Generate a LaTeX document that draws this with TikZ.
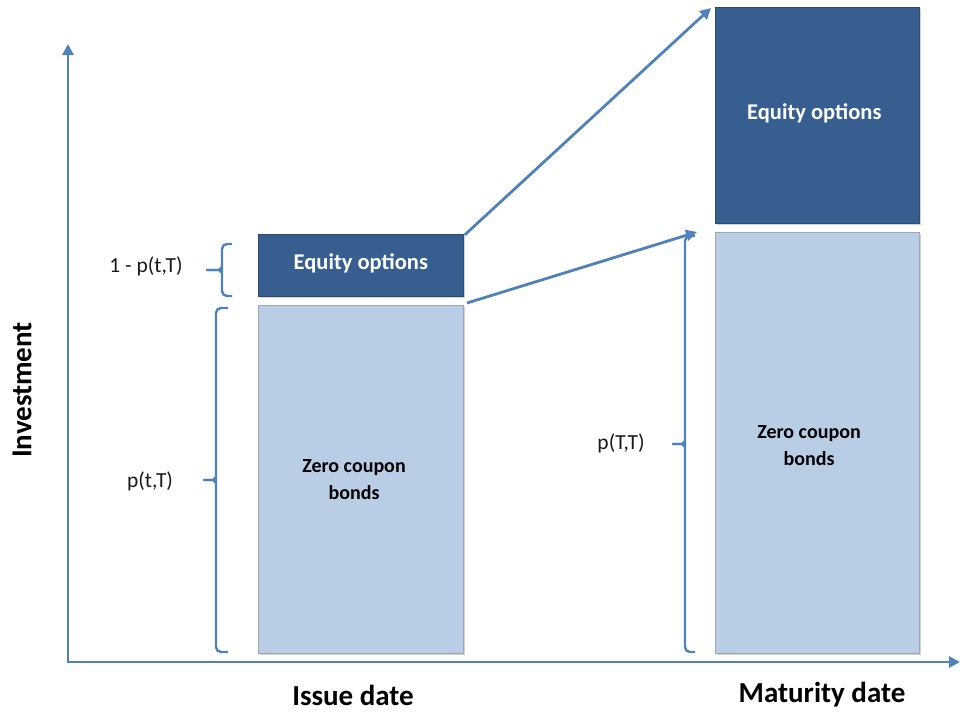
\documentclass[tikz,border=0pt]{standalone}
\usepackage{fontspec}
\setmainfont{Carlito}
\usetikzlibrary{arrows.meta,calc}
\definecolor{darkbox}{RGB}{54,95,143}
\definecolor{lightbox}{RGB}{185,205,229}
\definecolor{axisblue}{RGB}{79,129,189}
\definecolor{edgegray}{RGB}{160,166,174}
\newcommand{\myBrace}[5]{% #1 hook end x, #2 vertical x, #3 tip x, #4 top y, #5 bottom y
  \draw[bracestyle, rounded corners=5pt] (#1,#4) -- (#2,#4) -- (#2,#5) -- (#1,#5);
  \draw[bracestyle, line cap=round] (#2,{(#4+#5)/2-3}) -- ({#2-3},{(#4+#5)/2}) -- (#3,{(#4+#5)/2});
  \draw[bracestyle, line cap=round] (#2,{(#4+#5)/2+3}) -- ({#2-3},{(#4+#5)/2}) -- (#3,{(#4+#5)/2});}
\begin{document}
\begin{tikzpicture}[x=1pt,y=-1pt,
  darkstyle/.style={fill=darkbox, draw=darkbox!80!black, line width=0.6pt, anchor=north west, inner sep=0pt},
  lightstyle/.style={fill=lightbox, draw=edgegray, line width=1pt, anchor=north west, inner sep=0pt},
  shadowstyle/.style={fill=black!18, draw=none},
  axisstyle/.style={draw=axisblue, line width=2.8pt, -{Triangle[length=11pt,width=11pt]}},
  arrowstyle/.style={draw=axisblue, line width=2.8pt, -{Triangle[length=11pt,width=11pt]}},
  bracestyle/.style={draw=axisblue, line width=2.4pt},
  boxtext/.style={font=\bfseries\fontsize{22.5}{27}\selectfont, text=white},
  zctext/.style={font=\bfseries\fontsize{20}{27}\selectfont, text=black, align=center},
  labeltext/.style={font=\fontsize{21.5}{26}\selectfont, text=black!90},
  axistext/.style={font=\bfseries\fontsize{29}{34}\selectfont, text=black}]
\useasboundingbox (0,0) rectangle (960,712);
% shadows
\fill[shadowstyle] (260,236) rectangle (465,298);
\fill[shadowstyle] (260,307) rectangle (465,655);
\fill[shadowstyle] (717,9) rectangle (921,225);
\fill[shadowstyle] (717,234) rectangle (921,655);
% boxes
\node[darkstyle, minimum width=205pt, minimum height=62pt] (eqA) at (258,234) {};
\node[lightstyle, minimum width=205pt, minimum height=348pt] (zcA) at (258,305) {};
\node[darkstyle, minimum width=204pt, minimum height=216pt] (eqB) at (715,7) {};
\node[lightstyle, minimum width=204pt, minimum height=421pt] (zcB) at (715,232) {};
% box texts
\node[boxtext] (eqAt) at ($(eqA.center)+(0,-2)$) {Equity options};
\node[boxtext] (eqBt) at ($(eqB.center)+(-3,-2)$) {Equity options};
\node[zctext] (zcAt) at (354,480) {Zero coupon\\bonds};
\node[zctext] (zcBt) at (809,446) {Zero coupon\\bonds};
% axes
\coordinate (origin) at (68,662);
\coordinate (ytop) at (68,44);
\coordinate (xend) at (960,662);
\draw[axisstyle] ($(origin)+(0,1.4)$) -- (ytop);
\draw[axisstyle] ($(origin)+(-1.4,0)$) -- (xend);
% arrows
\coordinate (tipA) at ($(eqB.north west)+(-4,1)$);
\coordinate (tipB) at ($(zcB.north west)+(-18,0)$);
\draw[arrowstyle] ($(eqA.north east)+(1,1)$) -- (tipA);
\draw[arrowstyle] ($(zcA.north east)+(3,-2)$) -- (tipB);
% braces
\myBrace{232}{222}{207}{244}{296}
\myBrace{228}{216}{204}{308}{652}
\myBrace{695}{685}{673}{236}{652}
% labels
\node[labeltext] (l1) at (146,266) {1 - p(t,T)};
\node[labeltext] (l2) at (150,481) {p(t,T)};
\node[labeltext] (l3) at (621,443) {p(T,T)};
\node[axistext] (issue) at (353,695) {Issue date};
\node[axistext] (mat) at (822,695) {Maturity date};
\node[axistext, rotate=90] (inv) at (22,390) {Investment};
\end{tikzpicture}
\end{document}
